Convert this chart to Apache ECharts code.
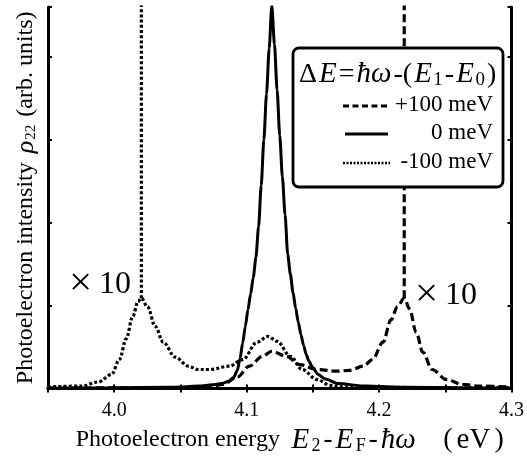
<!DOCTYPE html>
<html>
<head>
<meta charset="utf-8">
<script src="https://cdn.jsdelivr.net/npm/echarts@6/dist/echarts.min.js"></script>
<style>
html,body{margin:0;padding:0;background:#fff;}
#chart{width:527px;height:460px;}
</style>
</head>
<body>
<div id="chart"></div>
<script>
// ---- data ----
const xTickLabels = ['4.0', '4.1', '4.2', '4.3'];

// 0 meV (solid)
const energyZero = [3.95, 4.00, 4.04, 4.05, 4.064, 4.074, 4.081, 4.086, 4.090, 4.093, 4.095, 4.097, 4.099, 4.101, 4.103, 4.105, 4.107, 4.109, 4.111, 4.113, 4.115, 4.117, 4.119, 4.121, 4.123, 4.125, 4.127, 4.129, 4.131, 4.133, 4.135, 4.137, 4.139, 4.141, 4.143, 4.145, 4.147, 4.150, 4.154, 4.159, 4.169, 4.19, 4.22, 4.26, 4.30];
const intensityZero = [0.005, 0.01, 0.015, 0.02, 0.03, 0.045, 0.06, 0.085, 0.13, 0.22, 0.36, 0.55, 0.75, 0.95, 1.14, 1.34, 1.58, 1.95, 2.45, 3.0, 3.55, 4.1, 4.62, 4.15, 3.6, 3.05, 2.55, 2.1, 1.62, 1.38, 1.16, 0.97, 0.8, 0.65, 0.52, 0.41, 0.33, 0.25, 0.17, 0.12, 0.06, 0.03, 0.015, 0.01, 0.005];

// -100 meV (dotted), x10 curve
const energyMinus = [3.95, 3.975, 3.988, 3.998, 4.004, 4.009, 4.014, 4.018, 4.0205, 4.025, 4.031, 4.037, 4.046, 4.056, 4.063, 4.072, 4.087, 4.097, 4.108, 4.116, 4.123, 4.133, 4.142, 4.153, 4.163, 4.170, 4.20, 4.25, 4.30];
const intensityMinus = [0.02, 0.03, 0.08, 0.17, 0.35, 0.6, 0.87, 1.05, 1.09, 0.99, 0.75, 0.56, 0.38, 0.27, 0.23, 0.23, 0.27, 0.35, 0.56, 0.63, 0.57, 0.39, 0.23, 0.11, 0.04, 0.02, 0.015, 0.01, 0.01];
// -100 meV narrow peak (unscaled)
const spikeMinusEnergy = [4.0205, 4.0205];
const spikeMinusIntensity = [1.09, 4.7];

// +100 meV (dashed), x10 curve
const energyPlus = [3.95, 4.00, 4.057, 4.072, 4.082, 4.093, 4.102, 4.112, 4.119, 4.130, 4.140, 4.153, 4.168, 4.178, 4.188, 4.195, 4.203, 4.209, 4.214, 4.219, 4.223, 4.228, 4.233, 4.240, 4.251, 4.263, 4.276, 4.30];
const intensityPlus = [0.005, 0.008, 0.01, 0.02, 0.05, 0.14, 0.27, 0.39, 0.45, 0.39, 0.29, 0.23, 0.21, 0.22, 0.27, 0.35, 0.56, 0.83, 0.99, 1.09, 0.96, 0.68, 0.44, 0.23, 0.11, 0.05, 0.03, 0.02];
// +100 meV narrow peak (unscaled)
const spikePlusEnergy = [4.219, 4.219];
const spikePlusIntensity = [1.09, 4.7];

// ---- build ----
function pairs(xs, ys) { return xs.map((x, i) => [x, ys[i]]); }
const SERIF = '"Liberation Serif", "DejaVu Serif", serif';
const DASH = [8, 4];
const DOT = [3, 2.2];

const chart = echarts.init(document.getElementById('chart'), null, {renderer: 'canvas'});

function isLabelTick(v) {
  const s = v.toFixed(1);
  return Math.abs(v - parseFloat(s)) < 1e-6 && xTickLabels.indexOf(s) >= 0;
}

const axisCommonX = {
  type: 'value', min: 3.95, max: 4.3, interval: 0.05,
  axisLine: {show: true, lineStyle: {color: '#000', width: 3}},
  axisTick: {show: true, inside: true, length: 4, lineStyle: {color: '#000', width: 2}},
  splitLine: {show: false}
};
const axisCommonY = {
  type: 'value', min: 0, max: 4.6, interval: 1,
  axisLine: {show: true, lineStyle: {color: '#000', width: 3}},
  axisTick: {show: true, inside: true, length: 4, lineStyle: {color: '#000', width: 2}},
  splitLine: {show: false},
  axisLabel: {show: false}
};

const option = {
  backgroundColor: '#fff',
  animation: false,
  grid: {left: 48, right: 15, top: 7, bottom: 71},
  xAxis: [
    Object.assign({}, axisCommonX, {
      position: 'bottom',
      axisLabel: {
        show: true, margin: 12, color: '#000', fontFamily: SERIF, fontSize: 20,
        formatter: v => isLabelTick(v) ? v.toFixed(1) : ''
      },
      name: '{n|Photoelectron energy}{i|E}{s|2}{m|-}{i|E}{s|F}{m|-}{i|ħω}{p|(}{e|eV}{q|)}',
      nameLocation: 'middle', nameGap: 36,
      nameTextStyle: {
        padding: [0, 0, 0, 20],
        rich: {
          n: {fontFamily: SERIF, fontSize: 24, color: '#000', lineHeight: 30, padding: [0, 10, 0, 0]},
          i: {fontFamily: SERIF, fontSize: 29, fontStyle: 'italic', color: '#000', lineHeight: 30, padding: [0, 1.5, 0, 1.5]},
          m: {fontFamily: SERIF, fontSize: 27, color: '#000', lineHeight: 30, padding: [0, 1.5, 0, 1.5]},
          s: {fontFamily: SERIF, fontSize: 18, color: '#000', lineHeight: 22, verticalAlign: 'bottom', padding: [0, 1.5, 0, 1]},
          p: {fontFamily: SERIF, fontSize: 28, color: '#000', lineHeight: 30, padding: [0, 4, 0, 26]},
          e: {fontFamily: SERIF, fontSize: 29, color: '#000', lineHeight: 30},
          q: {fontFamily: SERIF, fontSize: 28, color: '#000', lineHeight: 30, padding: [0, 0, 0, 4]}
        }
      }
    }),
    Object.assign({}, axisCommonX, {position: 'top', axisLabel: {show: false}})
  ],
  yAxis: [
    Object.assign({}, axisCommonY, {
      position: 'left',
      name: '{n|Photoelectron intensity}{i|ρ}{s|22}{n|(arb. units)}',
      nameLocation: 'middle', nameGap: 9,
      nameTextStyle: {
        rich: {
          n: {fontFamily: SERIF, fontSize: 24, color: '#000', lineHeight: 26},
          i: {fontFamily: SERIF, fontSize: 26, fontStyle: 'italic', color: '#000', lineHeight: 26, padding: [0, 1, 0, 9]},
          s: {fontFamily: SERIF, fontSize: 15, color: '#000', lineHeight: 20, verticalAlign: 'bottom', padding: [0, 8, 0, 0]}
        }
      }
    }),
    Object.assign({}, axisCommonY, {position: 'right'})
  ],
  series: [
    {name: '+100 meV', type: 'line', xAxisIndex: 0, yAxisIndex: 0, data: pairs(energyPlus, intensityPlus),
     showSymbol: false, smooth: 0.35, smoothMonotone: 'x', lineStyle: {color: '#000', width: 3.2, type: DASH}, z: 3},
    {name: '+100 meV peak', type: 'line', data: pairs(spikePlusEnergy, spikePlusIntensity),
     showSymbol: false, lineStyle: {color: '#000', width: 3.2, type: DASH}, z: 3},
    {name: '0 meV', type: 'line', data: pairs(energyZero, intensityZero),
     showSymbol: false, smooth: 0.25, smoothMonotone: 'x', lineStyle: {color: '#000', width: 3, type: 'solid'}, z: 4},
    {name: '-100 meV', type: 'line', data: pairs(energyMinus, intensityMinus),
     showSymbol: false, smooth: 0.35, smoothMonotone: 'x', lineStyle: {color: '#000', width: 3.2, type: DOT}, z: 3},
    {name: '-100 meV peak', type: 'line', data: pairs(spikeMinusEnergy, spikeMinusIntensity),
     showSymbol: false, lineStyle: {color: '#000', width: 3.2, type: DOT}, z: 3}
  ],
  graphic: [
    {type: 'rect', z: 100, shape: {x: 293, y: 48, width: 210, height: 139, r: 6},
     style: {fill: '#fff', stroke: '#000', lineWidth: 2.8}},
    {type: 'text', z: 101, left: 298, top: 60,
     style: {
       text: '{n|Δ}{i|E}{n|=}{i|ħω}{n|-(}{i|E}{s|1}{n|-}{i|E}{s|0}{n|)}',
       rich: {
         n: {fontFamily: SERIF, fontSize: 28, fill: '#000', lineHeight: 30, padding: [0, 1, 0, 1]},
         i: {fontFamily: SERIF, fontSize: 29, fontStyle: 'italic', fill: '#000', lineHeight: 30, padding: [0, 1, 0, 1]},
         s: {fontFamily: SERIF, fontSize: 19, fill: '#000', lineHeight: 24, verticalAlign: 'bottom', padding: [0, 1, 0, 0.5]}
       }
     }},
    {type: 'line', z: 101, shape: {x1: 343, y1: 106, x2: 390, y2: 106}, style: {stroke: '#000', lineWidth: 3, lineDash: [6, 3.5]}},
    {type: 'text', z: 101, right: 527 - 493, top: 93, style: {text: '+100 meV', fontFamily: SERIF, fontSize: 23, fill: '#000', align: 'right'}},
    {type: 'line', z: 101, shape: {x1: 345, y1: 134, x2: 388, y2: 134}, style: {stroke: '#000', lineWidth: 2.8}},
    {type: 'text', z: 101, right: 527 - 493, top: 121, style: {text: '0 meV', fontFamily: SERIF, fontSize: 23, fill: '#000', align: 'right'}},
    {type: 'line', z: 101, shape: {x1: 343, y1: 163, x2: 390, y2: 163}, style: {stroke: '#000', lineWidth: 2.5, lineDash: [2, 1.5]}},
    {type: 'text', z: 101, right: 527 - 493, top: 150, style: {text: '-100 meV', fontFamily: SERIF, fontSize: 23, fill: '#000', align: 'right'}},
    {type: 'text', z: 101, left: 69, top: 264,
     style: {text: '{x|×}{n|10}', rich: {x: {fontFamily: SERIF, fontSize: 41, fill: '#000'}, n: {fontFamily: SERIF, fontSize: 32, fill: '#000', padding: [0, 0, 0, 7]}}}},
    {type: 'text', z: 101, left: 415, top: 275,
     style: {text: '{x|×}{n|10}', rich: {x: {fontFamily: SERIF, fontSize: 41, fill: '#000'}, n: {fontFamily: SERIF, fontSize: 32, fill: '#000', padding: [0, 0, 0, 7]}}}}
  ]
};
chart.setOption(option);
</script>
</body>
</html>
